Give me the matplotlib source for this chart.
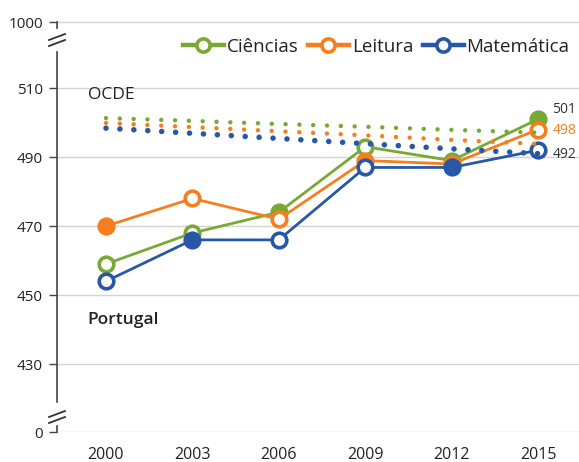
import matplotlib
matplotlib.use("Agg")
import matplotlib.pyplot as plt
from matplotlib.lines import Line2D
import matplotlib.transforms as mtransforms

plt.rcParams['font.family'] = ['Open Sans', 'DejaVu Sans']

years = [2000, 2003, 2006, 2009, 2012, 2015]
ciencias = [459, 468, 474, 493, 489, 501]
leitura = [470, 478, 472, 489, 488, 498]
matematica = [454, 466, 466, 487, 487, 492]
# filled markers
ciencias_filled = [False, False, True, False, False, True]
leitura_filled = [True, False, False, True, True, False]
matematica_filled = [False, True, False, False, True, False]
# OECD averages (dotted)
ocde_ciencias = [501.3, 500.5, 499.6, 498.8, 497.9, 497.1]
ocde_leitura = [499.9, 498.7, 497.5, 496.3, 495.0, 493.8]
ocde_matematica = [498.4, 496.9, 495.4, 493.9, 492.4, 491.0]

ytick_vals = [430, 450, 470, 490, 510]
final_labels = ['501', '498', '492']

GREEN = '#78A935'
ORANGE = '#F47E20'
BLUE = '#2857A8'

fig = plt.figure(figsize=(5.79, 4.62), dpi=100)
ax = fig.add_axes([57/579, 30/462, 1 - 57/579, 417/462])

y_bottom = 410.3
y_top_fake = 529.1
ax.set_xlim(1998.30, 2016.42)
ax.set_ylim(410.3, 531.2)

# OECD dotted lines
for vals, col, lw, gap in [(ocde_ciencias, GREEN, 3.2, 3.1), (ocde_leitura, ORANGE, 3.2, 3.1),
                           (ocde_matematica, BLUE, 4.0, 2.5)]:
    ax.plot(years, vals, color=col, lw=lw, linestyle=(0, (0.01, gap)), dash_capstyle='round', zorder=4)

# Portugal series
for vals, filled, col, lab in [(ciencias, ciencias_filled, GREEN, 'Ciências'),
                               (leitura, leitura_filled, ORANGE, 'Leitura'),
                               (matematica, matematica_filled, BLUE, 'Matemática')]:
    ax.plot(years, vals, color=col, lw=2, zorder=3)
    for x, v, f in zip(years, vals, filled):
        ax.plot([x], [v], marker='o', ms=10.5, mew=2.6, mec=col,
                mfc=col if f else 'white', zorder=3)
    ax.plot([], [], color=col, lw=3.2, marker='o', ms=9.5, mew=2.6, mec=col, mfc='white', label=lab)

# Axis ticks
ax.set_yticks([y_bottom] + ytick_vals + [y_top_fake])
ax.set_yticklabels(['0'] + [str(v) for v in ytick_vals] + ['1000'])
ax.set_xticks(years)
ax.set_xticklabels([str(y) for y in years])
ax.tick_params(axis='y', length=6, width=1, color='#444444', pad=4, labelsize=11, labelcolor='#222222')
ax.tick_params(axis='x', length=0, pad=11, labelsize=11.5, labelcolor='#222222')
ax.grid(axis='y', color='#d3d3d3', lw=1)
ax.set_axisbelow(True)
for s in ax.spines.values():
    s.set_visible(False)

# Broken left spine
trans = mtransforms.blended_transform_factory(ax.transAxes, ax.transData)
ax.plot([0, 0], [419.0, 520.4], color='#444444', lw=1.2, transform=trans, clip_on=False)
ax.plot([0, 0], [y_top_fake, y_top_fake - 1.6], color='#444444', lw=1.2, transform=trans, clip_on=False)
ax.plot([0, 0], [y_bottom, y_bottom + 1.6], color='#444444', lw=1.2, transform=trans, clip_on=False)

# Break marks (pixel coords)
H = 462.0
def brk(yc):
    for dy in (-3, 3):
        fig.add_artist(Line2D([49/579, 65/579], [(H - (yc + dy + 3))/H, (H - (yc + dy - 3))/H],
                              color='#333333', lw=1.3))
brk(40)
brk(417)

# Labels
ax.text(1999.37, 508.0, 'OCDE', fontsize=12.5, va='center', ha='left', color='#222222')
ax.text(1999.37, 442.8, 'Portugal', fontsize=12.5, fontweight='semibold', va='center', ha='left', color='#222222')

for v, lab, col, off in [(ciencias[-1], final_labels[0], '#333333', 7),
                         (leitura[-1], final_labels[1], ORANGE, -1),
                         (matematica[-1], final_labels[2], '#333333', -3)]:
    ax.annotate(lab, xy=(2015.5, v), xytext=(0, off), textcoords='offset points',
                fontsize=10, color=col, va='center', ha='left', annotation_clip=False)

leg = ax.legend(loc='center right', bbox_to_anchor=(1.0, (H - 47) / H), bbox_transform=fig.transFigure,
                ncol=3, frameon=False, fontsize=13.5, handlelength=2.2, handletextpad=0.15,
                columnspacing=0.5, borderaxespad=0.1)
for t in leg.get_texts():
    t.set_color('#222222')

fig.savefig('out.png', dpi=100)
